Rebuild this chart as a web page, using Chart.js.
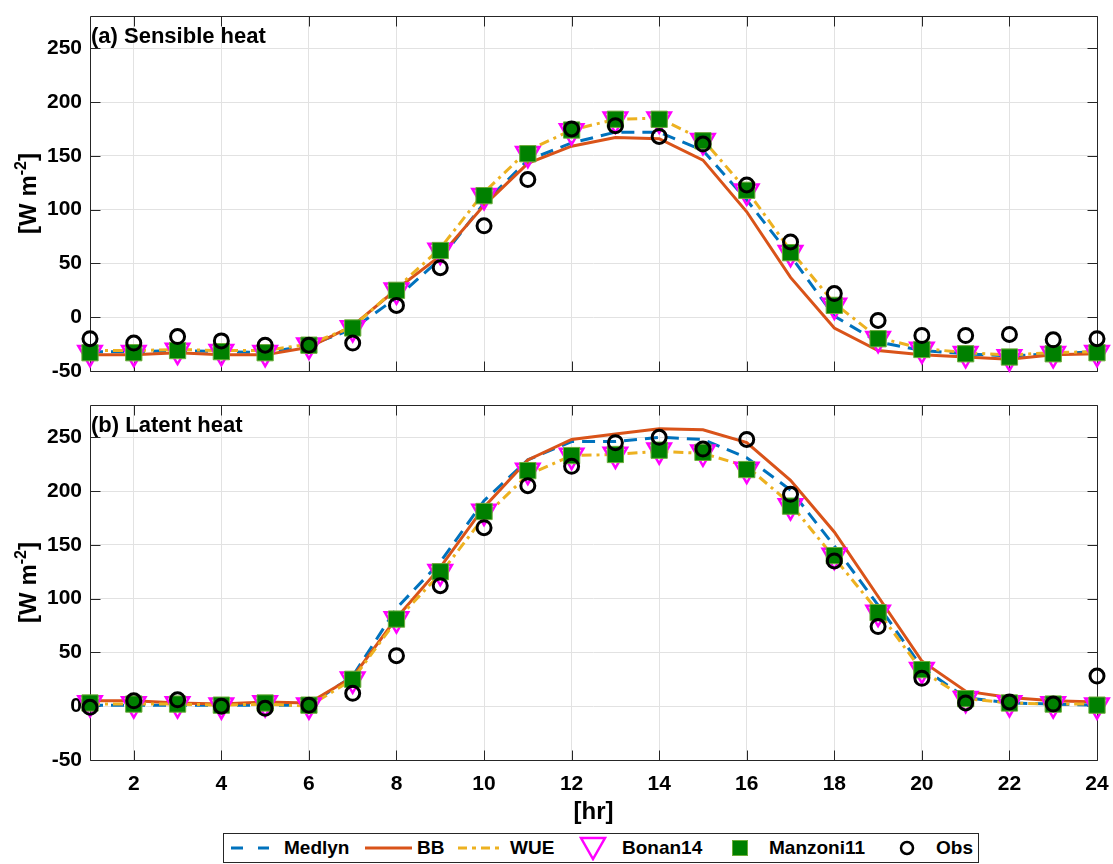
<!DOCTYPE html>
<html>
<head>
<meta charset="utf-8">
<script src="https://cdn.jsdelivr.net/npm/chart.js@4.4.1/dist/chart.umd.min.js"></script>
<style>
  body { margin: 0; background: #fff; }
  #page { position: relative; width: 1113px; height: 864px; overflow: hidden; background: #fff; }
  #cA { position: absolute; left: 0; top: 0; }
  #cB { position: absolute; left: 0; top: 389px; }
  #legend {
    position: absolute; left: 223px; top: 833px; width: 756px; height: 30px;
    box-sizing: border-box; border: 1px solid #262626; background: #fff;
    font: bold 19px "Liberation Sans", Arial, sans-serif; color: #000;
  }
  #legend .sym { position: absolute; top: 0; height: 28px; display: flex; align-items: center; }
  #legend .txt { position: absolute; top: 0; height: 28px; line-height: 28px; white-space: nowrap; }
</style>
</head>
<body>
<div id="page">
  <canvas id="cA" width="1113" height="389"></canvas>
  <canvas id="cB" width="1113" height="441"></canvas>
  <div id="legend"></div>
</div>
<script>
const hours = [1, 2, 3, 4, 5, 6, 7, 8, 9, 10, 11, 12, 13, 14, 15, 16, 17, 18, 19, 20, 21, 22, 23, 24];
const xTicks = [2, 4, 6, 8, 10, 12, 14, 16, 18, 20, 22, 24];
const yTicks = [-50, 0, 50, 100, 150, 200, 250];
const seriesNames = ["Medlyn", "BB", "WUE", "Bonan14", "Manzoni11", "Obs"];

// (a) sensible heat, W m-2
const sensMedlyn   = [-32, -32, -31, -32, -33, -26, -11, 18, 54, 106, 146, 162, 172, 172, 155, 109, 57, 1, -23, -31, -34, -36, -34, -32];
const sensBB       = [-35, -35, -33, -35, -35, -28, -8, 26, 57, 104, 143, 159, 167, 166, 146, 98, 37, -10, -31, -35, -37, -39, -35, -34];
const sensWUE      = [-31, -31, -30, -31, -31, -25, -9, 27, 64, 116, 155, 174, 184, 185, 165, 118, 62, 13, -19, -29, -33, -35, -33, -32];
const sensBonan    = [-33, -33, -31, -32, -33, -26, -10, 25, 62, 113, 152, 173, 184, 184, 164, 117, 60, 11, -20, -30, -34, -37, -34, -33];
const sensManzoni  = [-33, -33, -31, -32, -33, -26, -10, 25, 62, 113, 152, 174, 184, 184, 164, 118, 60, 11, -20, -30, -34, -37, -34, -33];
const sensObs      = [-20, -24, -18, -22, -26, -26, -24, 11, 46, 85, 128, 175, 178, 168, 161, 123, 70, 22, -3, -17, -17, -16, -21, -20];

// (b) latent heat, W m-2
const latMedlyn    = [1, 1, 1, 1, 1, 1, 28, 91, 134, 191, 229, 246, 246, 250, 248, 231, 201, 149, 94, 36, 8, 3, 2, 1];
const latBB        = [5, 5, 3, 2, 4, 3, 27, 82, 129, 185, 229, 248, 253, 258, 257, 245, 210, 162, 102, 42, 14, 8, 5, 4];
const latWUE       = [2, 2, 2, 1, 2, 0, 25, 80, 123, 176, 215, 233, 234, 237, 235, 223, 188, 138, 88, 33, 7, 3, 2, 2];
const latBonan     = [3, 2, 2, 1, 3, 1, 25, 81, 125, 181, 219, 233, 234, 238, 236, 220, 186, 140, 87, 34, 7, 3, 2, 1];
const latManzoni   = [3, 2, 2, 1, 3, 1, 25, 81, 125, 181, 219, 233, 234, 238, 236, 220, 186, 140, 87, 34, 7, 3, 2, 1];
const latObs       = [-1, 5, 6, 0, -2, 1, 12, 47, 112, 166, 205, 223, 245, 250, 239, 248, 197, 135, 74, 26, 3, 4, 2, 28];

const fontFam = '"Liberation Sans", Arial, sans-serif';
const gridColor = "#e2e2e2";

const styles = {
  Medlyn:    { borderColor: "#0072BD", borderWidth: 3, borderDash: [13, 8], pointRadius: 0, order: 6 },
  BB:        { borderColor: "#D95319", borderWidth: 3, pointRadius: 0, order: 5 },
  WUE:       { borderColor: "#EDB120", borderWidth: 3, borderDash: [10, 5, 3, 5], pointRadius: 0, order: 4 },
  Bonan14:   { showLine: false, pointStyle: "triangle", rotation: 180, pointRadius: 13.5,
               pointBorderColor: "#FF00FF", pointBackgroundColor: "rgba(0,0,0,0)", pointBorderWidth: 2.5, order: 3 },
  Manzoni11: { showLine: false, pointStyle: "rect", pointRadius: 11.5,
               pointBorderColor: "#6cad3a", pointBackgroundColor: "#008000", pointBorderWidth: 1, order: 2 },
  Obs:       { showLine: false, pointStyle: "circle", pointRadius: 7,
               pointBorderColor: "#000000", pointBackgroundColor: "rgba(0,0,0,0)", pointBorderWidth: 3, order: 1 },
};

function makeDatasets(valueLists) {
  return seriesNames.map((name, k) => Object.assign({
    label: name,
    data: hours.map((h, i) => ({ x: h, y: valueLists[k][i] })),
    tension: 0,
    fill: false,
    clip: false,
    pointHoverRadius: 0,
  }, styles[name]));
}

// box, inward ticks, panel label and axis titles (MATLAB look)
const panelDecor = {
  id: "panelDecor",
  beforeDatasetsDraw(chart, args, opts) {
    const { ctx, chartArea: a, scales } = chart;
    ctx.save();
    ctx.strokeStyle = "#262626";
    ctx.lineWidth = 1;
    ctx.beginPath();
    const L = Math.round(a.left) + 0.5, R = Math.round(a.right) + 0.5;
    const T = Math.round(a.top) + 0.5, B = Math.round(a.bottom) + 0.5;
    ctx.rect(L, T, R - L, B - T);
    xTicks.forEach(v => {
      const px = Math.round(scales.x.getPixelForValue(v)) + 0.5;
      ctx.moveTo(px, B); ctx.lineTo(px, B - 10);
      ctx.moveTo(px, T); ctx.lineTo(px, T + 10);
    });
    yTicks.forEach(v => {
      const py = Math.round(scales.y.getPixelForValue(v)) + 0.5;
      ctx.moveTo(L, py); ctx.lineTo(L + 10, py);
      ctx.moveTo(R, py); ctx.lineTo(R - 10, py);
    });
    ctx.stroke();

    ctx.fillStyle = "#000";
    ctx.font = "bold 22px " + fontFam;
    ctx.textAlign = "left";
    ctx.textBaseline = "middle";
    ctx.fillText(opts.label, a.left + 1, a.top + 21);

    if (opts.xTitle) {
      ctx.font = "bold 24px " + fontFam;
      ctx.textAlign = "center";
      ctx.fillText(opts.xTitle, (a.left + a.right) / 2, a.bottom + 52);
    }

    // y title: [W m^-2], rotated
    ctx.translate(36, (a.top + a.bottom) / 2);
    ctx.rotate(-Math.PI / 2);
    ctx.textAlign = "left";
    ctx.textBaseline = "alphabetic";
    const big = "bold 24px " + fontFam, small = "bold 16px " + fontFam;
    ctx.font = big;
    const w1 = ctx.measureText("[W m").width, w3 = ctx.measureText("]").width;
    ctx.font = small;
    const w2 = ctx.measureText("-2").width;
    const x0 = -(w1 + w2 + w3) / 2;
    ctx.font = big;  ctx.fillText("[W m", x0, 0);
    ctx.font = small; ctx.fillText("-2", x0 + w1, -10);
    ctx.font = big;  ctx.fillText("]", x0 + w1 + w2, 0);
    ctx.restore();
  }
};

function panelConfig(valueLists, label, showX, xAxisHeight) {
  return {
    type: "line",
    data: { datasets: makeDatasets(valueLists) },
    options: {
      responsive: false,
      animation: false,
      devicePixelRatio: 1,
      events: [],
      layout: { padding: { left: 0, right: 14, top: 10, bottom: showX ? 0 : 18 } },
      plugins: {
        legend: { display: false },
        tooltip: { enabled: false },
        panelDecor: { label: label, xTitle: showX ? "[hr]" : null },
      },
      scales: {
        x: {
          type: "linear",
          min: 1,
          max: 24,
          afterBuildTicks: s => { s.ticks = xTicks.map(v => ({ value: v })); },
          afterFit: s => { s.height = xAxisHeight; s.paddingLeft = 0; s.paddingRight = 0; },
          grid: { color: gridColor, drawTicks: false },
          border: { display: false },
          ticks: {
            display: showX,
            padding: 12,
            autoSkip: false,
            maxRotation: 0,
            color: "#000",
            font: { family: fontFam, size: 21, weight: "bold" },
          },
        },
        y: {
          type: "linear",
          min: -50,
          max: 280,
          afterBuildTicks: s => { s.ticks = yTicks.map(v => ({ value: v })); },
          afterFit: s => { s.width = 90; s.paddingTop = 0; s.paddingBottom = 0; },
          grid: { color: gridColor, drawTicks: false },
          border: { display: false },
          ticks: {
            padding: 8,
            color: "#000",
            font: { family: fontFam, size: 21, weight: "bold" },
          },
        },
      },
    },
    plugins: [panelDecor],
  };
}

const chartA = new Chart(document.getElementById("cA"),
  panelConfig([sensMedlyn, sensBB, sensWUE, sensBonan, sensManzoni, sensObs], "(a) Sensible heat", false, 0));
const chartB = new Chart(document.getElementById("cB"),
  panelConfig([latMedlyn, latBB, latWUE, latBonan, latManzoni, latObs], "(b) Latent heat", true, 70));

// legend box below the panels
const legendSymbols = {
  Medlyn:    '<svg width="38" height="20"><line x1="0" y1="10" x2="38" y2="10" stroke="#0072BD" stroke-width="3" stroke-dasharray="12 15"/></svg>',
  BB:        '<svg width="47" height="20"><line x1="0" y1="10" x2="47" y2="10" stroke="#D95319" stroke-width="3"/></svg>',
  WUE:       '<svg width="46" height="20"><line x1="0" y1="10" x2="46" y2="10" stroke="#EDB120" stroke-width="3" stroke-dasharray="9 5 4 5"/></svg>',
  Bonan14:   '<svg width="28" height="26"><polygon points="2,3 26,3 14,24" fill="none" stroke="#FF00FF" stroke-width="2.5"/></svg>',
  Manzoni11: '<svg width="16" height="16"><rect x="0.5" y="0.5" width="15" height="15" fill="#008000" stroke="#6cad3a"/></svg>',
  Obs:       '<svg width="16" height="16"><circle cx="8" cy="8" r="6" fill="none" stroke="#000" stroke-width="2.5"/></svg>',
};
const legendSymLeft = [7, 141, 234, 355, 508, 675];
const legendTxtLeft = [60, 193, 286, 398, 545, 712];
const legendEl = document.getElementById("legend");
seriesNames.forEach((name, k) => {
  const s = document.createElement("div");
  s.className = "sym";
  s.style.left = legendSymLeft[k] + "px";
  s.innerHTML = legendSymbols[name];
  legendEl.appendChild(s);
  const t = document.createElement("div");
  t.className = "txt";
  t.style.left = legendTxtLeft[k] + "px";
  t.textContent = name;
  legendEl.appendChild(t);
});
</script>
</body>
</html>
